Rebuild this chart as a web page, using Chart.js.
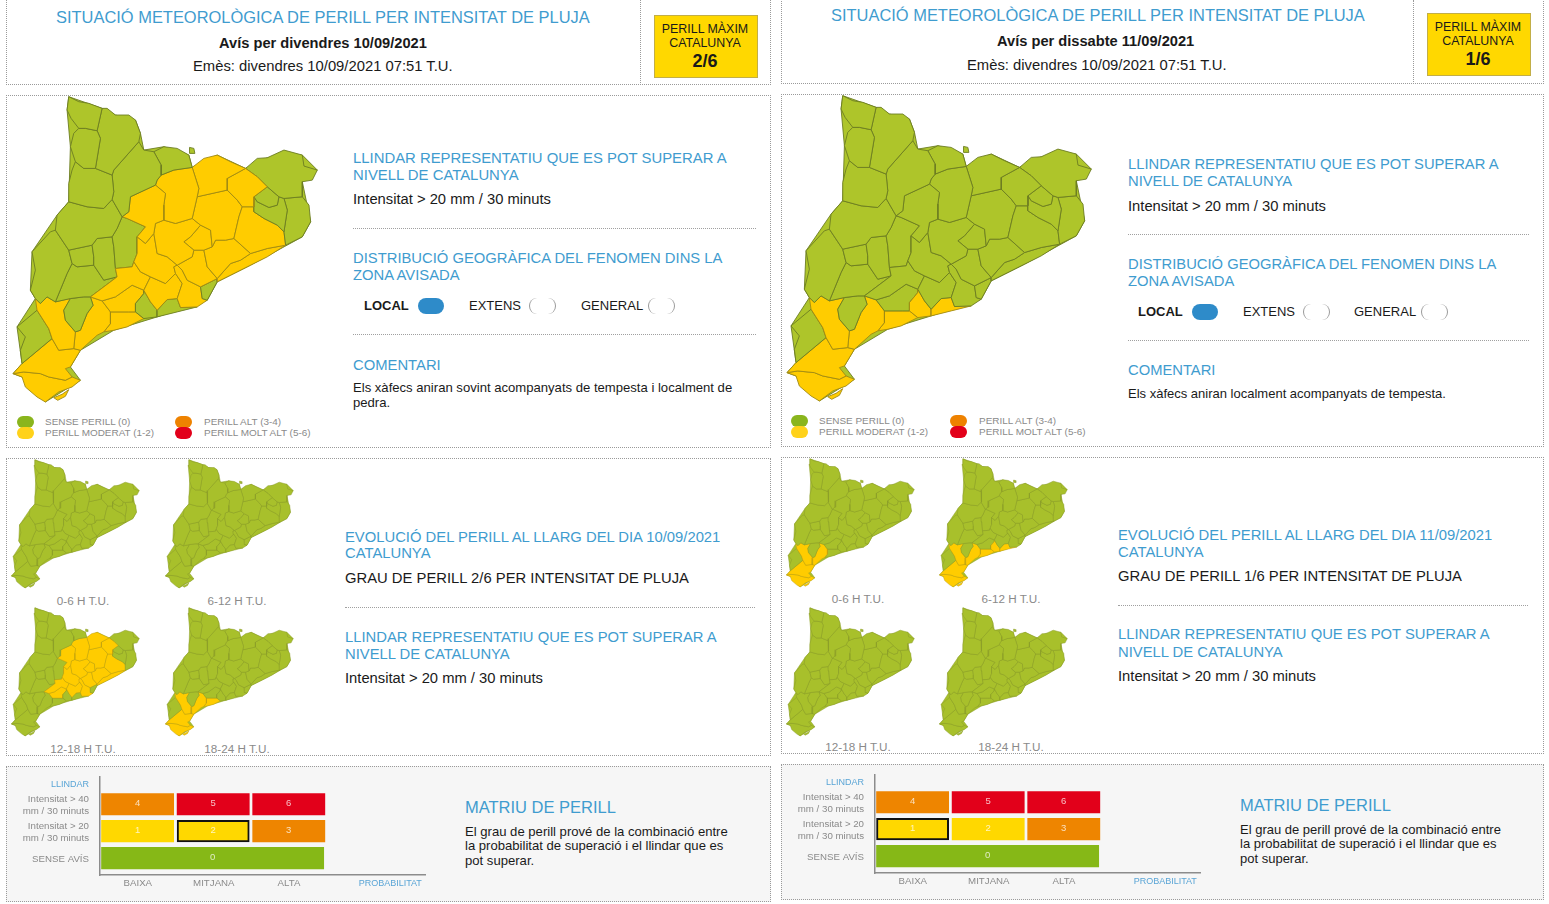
<!DOCTYPE html>
<html lang="ca">
<head>
<meta charset="UTF-8">
<title>Situació meteorològica de perill</title>
<script src="https://cdn.jsdelivr.net/npm/chart.js"></script>
<style>
html, body { margin: 0; padding: 0; background: #fff; width: 1549px; height: 904px; overflow: hidden; font-family: "Liberation Sans", Arial, sans-serif; }
body { filter: blur(0.35px); }
.panel { position: absolute; box-sizing: border-box; border: 1px dotted #9a9a9a; }
.rule { position: absolute; height: 0; border-top: 1px dotted #a0a0a0; }
.vrule { position: absolute; width: 0; border-left: 1px dotted #9a9a9a; }
.t { position: absolute; white-space: nowrap; transform: translateY(-50%); color: #1a1a1a; }
.c { transform: translate(-50%, -50%); }
.blue { color: #3f9ccf; }
.gray { color: #8a8a8a; }
.bold { font-weight: bold; }
.pill { position: absolute; box-sizing: border-box; border-radius: 8px; }
.open { border-left: 1.5px solid #999; border-right: 1.5px solid #999; }
.badge { position: absolute; box-sizing: border-box; width: 104px; height: 63px; background: #ffd800; border: 1px solid #c2ae48; }
canvas { position: absolute; }
</style>
</head>
<body>
<script>
// comarca outlines, x,y pairs
const valAran = [205,20, 235,35, 265,40, 305,55, 290,122, 255,115, 235,115, 212,85, 200,60];
const altaRibagorca = [235,115, 255,115, 290,122, 300,145, 285,235, 250,235, 225,215, 210,170, 220,130];
const pallarsSobira = [305,55, 320,55, 345,75, 385,75, 405,90, 420,130, 415,155, 340,240, 335,255, 285,235, 300,145, 290,122];
const pallarsJussa = [225,215, 250,235, 285,235, 335,255, 340,305, 335,328, 310,355, 260,350, 205,335, 205,280, 215,240];
const altUrgell = [415,155, 430,180, 460,185, 482,225, 482,255, 470,270, 465,285, 390,320, 385,365, 365,380, 335,328, 340,305, 335,255, 340,240];
const cerdanya = [460,185, 490,170, 530,175, 565,195, 575,232, 520,240, 482,255, 482,225];
const llivia = [567,172, 580,175, 583,190, 568,190];
const noguera = [205,335, 260,350, 310,355, 335,328, 365,380, 350,415, 335,440, 290,445, 275,465, 205,480, 165,420, 170,375];
const solsones = [390,320, 465,285, 495,310, 490,345, 490,390, 465,400, 460,430, 435,460, 410,440, 435,410, 380,385, 365,380, 385,365];
const bergueda = [470,270, 482,255, 520,240, 575,232, 595,295, 590,320, 575,385, 525,400, 490,390, 490,345, 495,310, 465,285];
const ripolles = [575,232, 610,205, 650,195, 690,215, 735,235, 680,265, 680,300, 590,320, 595,295];
const garrotxa = [680,265, 735,235, 770,260, 800,290, 760,320, 760,350, 725,350, 710,330, 680,300];
const altEmporda = [735,235, 770,205, 800,203, 850,180, 905,195, 910,228, 950,240, 935,270, 905,275, 905,320, 850,325, 835,320, 800,290, 770,260];
const plaEstany = [760,320, 800,290, 835,320, 830,345, 805,352, 770,335];
const girones = [760,350, 760,320, 770,335, 805,352, 830,345, 835,320, 850,325, 860,360, 850,425, 830,405, 790,385, 760,365];
const baixEmporda = [850,325, 905,320, 925,345, 930,395, 905,440, 855,465, 850,425, 860,360];
const selva = [760,365, 790,385, 830,405, 850,425, 855,465, 800,475, 750,490, 700,445, 715,380, 725,350, 760,350];
const osona = [590,320, 680,300, 710,330, 725,350, 715,380, 700,445, 675,450, 645,450, 635,470, 630,420, 600,405, 575,385];
const bages = [465,400, 490,390, 525,400, 575,385, 600,405, 570,440, 550,455, 580,480, 575,500, 530,525, 500,500, 470,490, 460,430];
const moianes = [600,405, 630,420, 635,470, 610,480, 580,480, 550,455, 570,440];
const vallesOriental = [635,470, 645,450, 675,450, 700,445, 750,490, 720,510, 690,520, 650,565, 620,530, 610,480];
const maresme = [750,490, 800,475, 855,465, 800,500, 750,525, 690,555, 650,575, 650,565, 690,520, 720,510];
const vallesOccidental = [530,525, 575,500, 580,480, 610,480, 620,530, 650,565, 640,570, 600,590, 560,570, 545,540];
const barcelones = [640,570, 650,565, 650,575, 620,630, 605,625, 600,590];
const baixLlobregat = [520,530, 530,525, 545,540, 560,570, 600,590, 605,625, 620,630, 590,650, 540,652, 530,625, 545,580, 525,550];
const anoia = [410,440, 435,460, 460,430, 470,490, 500,500, 530,525, 520,530, 525,550, 495,580, 450,560, 420,545, 400,515, 410,490];
const altPenedes = [525,550, 545,580, 530,625, 500,628, 470,660, 450,635, 430,600, 450,560, 495,580];
const garraf = [500,628, 530,625, 540,652, 590,650, 530,665, 470,680, 470,660];
const baixPenedes = [430,600, 450,635, 470,660, 470,680, 430,685, 405,665, 405,640, 430,610];
const concaBarbera = [270,620, 350,560, 345,535, 395,530, 400,515, 420,545, 450,560, 430,600, 395,585, 345,620, 305,632];
const altCamp = [305,632, 345,620, 395,585, 430,600, 430,610, 405,640, 405,665, 385,665, 330,665];
const segarra = [335,440, 350,415, 365,380, 380,385, 435,410, 410,440, 410,490, 400,515, 395,530, 345,535, 340,470];
const urgell = [275,465, 290,445, 335,440, 340,470, 345,535, 350,560, 310,570, 280,525, 280,500];
const plaUrgell = [205,480, 275,465, 280,500, 280,525, 230,530, 215,520];
const segria = [95,485, 150,425, 165,420, 205,480, 215,520, 200,550, 165,635, 140,620, 120,640, 105,625, 90,600, 105,540];
const garrigues = [200,550, 215,520, 230,530, 280,525, 310,570, 350,560, 270,620, 250,620, 210,625, 165,635];
const priorat = [190,660, 210,625, 250,620, 270,620, 278,645, 260,670, 240,720, 225,725, 195,690];
const riberaEbre = [105,625, 120,640, 140,620, 165,635, 210,625, 190,660, 195,690, 225,725, 220,775, 175,780, 155,745, 145,715, 110,660];
const terraAlta = [50,710, 110,660, 145,715, 155,745, 65,820, 60,780, 75,740];
const baixCamp = [270,620, 305,632, 330,665, 330,700, 310,725, 290,735, 240,780, 220,775, 225,725, 240,720, 260,670, 278,645];
const tarragones = [330,665, 385,665, 405,665, 430,685, 380,710, 340,720, 310,725, 330,700];
const baixEbre = [155,745, 175,780, 220,775, 240,780, 210,830, 195,835, 215,860, 195,870, 145,860, 120,850, 70,845, 38,850, 65,820];
const montsia = [38,850, 70,845, 120,850, 145,860, 195,870, 215,860, 240,870, 215,890, 175,905, 135,935, 110,920, 75,890, 65,860];
const deltaSpit = [160,922, 185,912, 205,898, 195,918, 172,930];
const catalunya = [205,20, 305,55, 345,75, 405,90, 420,130, 430,180, 490,170, 565,195, 575,232, 650,195, 735,235, 800,203, 905,195, 950,240, 905,275, 930,395, 905,440, 750,525, 650,575, 620,630, 470,680, 340,720, 240,780, 210,830, 240,870, 135,935, 65,860, 38,850, 65,820, 50,710, 105,625, 90,600, 95,485, 170,375, 205,335, 210,170, 200,60];

const comarcaNames = ['Val d\'Aran', 'Alta Ribagorça', 'Pallars Sobirà', 'Pallars Jussà', 'Alt Urgell', 'Cerdanya', 'Llívia', 'Noguera', 'Solsonès', 'Berguedà', 'Ripollès', 'Garrotxa', 'Alt Empordà', 'Pla de l\'Estany', 'Gironès', 'Baix Empordà', 'Selva', 'Osona', 'Bages', 'Moianès', 'Vallès Oriental', 'Maresme', 'Vallès Occidental', 'Barcelonès', 'Baix Llobregat', 'Anoia', 'Alt Penedès', 'Garraf', 'Baix Penedès', 'Conca de Barberà', 'Alt Camp', 'Segarra', 'Urgell', 'Pla d\'Urgell', 'Segrià', 'Garrigues', 'Priorat', 'Ribera d\'Ebre', 'Terra Alta', 'Baix Camp', 'Tarragonès', 'Baix Ebre', 'Montsià', 'Delta', 'Catalunya'];
const comarcaShapes = [valAran, altaRibagorca, pallarsSobira, pallarsJussa, altUrgell, cerdanya, llivia, noguera, solsones, bergueda, ripolles, garrotxa, altEmporda, plaEstany, girones, baixEmporda, selva, osona, bages, moianes, vallesOriental, maresme, vallesOccidental, barcelones, baixLlobregat, anoia, altPenedes, garraf, baixPenedes, concaBarbera, altCamp, segarra, urgell, plaUrgell, segria, garrigues, priorat, riberaEbre, terraAlta, baixCamp, tarragones, baixEbre, montsia, deltaSpit, catalunya];

// comarques at moderate danger on each map
const tortosaArea = ['Ribera d\'Ebre', 'Baix Camp', 'Baix Ebre', 'Montsià', 'Delta'];
const coastArea = ['Tarragonès', 'Baix Penedès', 'Garraf'];
const centralArea = ['Solsonès', 'Berguedà', 'Ripollès', 'Garrotxa', 'Osona', 'Bages', 'Moianès', 'Vallès Oriental', 'Maresme', 'Selva', 'Vallès Occidental', 'Baix Llobregat', 'Anoia', 'Alt Penedès', 'Conca de Barberà', 'Alt Camp'];
const friBig = centralArea.concat(tortosaArea, ['Tarragonès']);
const fri12 = centralArea;
const fri18 = tortosaArea.concat(['Tarragonès']);
const satBig = tortosaArea.concat(coastArea);
const sat0 = tortosaArea;
const sat6 = tortosaArea.concat(coastArea);

// danger matrix
const matrixRows = [1, 2, 3];
const matrixRowLabels = [['Intensitat > 40', 'mm / 30 minuts'], ['Intensitat > 20', 'mm / 30 minuts'], ['SENSE AVÍS']];
const probLabels = ['BAIXA', 'MITJANA', 'ALTA', 'PROBABILITAT'];
const baixaCells = [4, 1];
const mitjanaCells = [5, 2];
const altaCells = [6, 3];
const levelColors = ['#86b817', '#ffd800', '#ffd800', '#ee8500', '#ee8500', '#e2001a', '#e2001a'];

function addText(text, x, y, size, cls) {
    const el = document.createElement('div');
    el.className = 't ' + (cls || '');
    el.textContent = text;
    el.style.left = x + 'px';
    el.style.top = y + 'px';
    el.style.fontSize = size + 'px';
    document.body.appendChild(el);
}

function addBox(cls, x, y, w, h, bg) {
    const el = document.createElement('div');
    el.className = cls;
    el.style.left = x + 'px';
    el.style.top = y + 'px';
    if (w != null) el.style.width = w + 'px';
    if (h != null) el.style.height = h + 'px';
    if (bg) el.style.background = bg;
    document.body.appendChild(el);
}

function addCanvas(x, y, w, h) {
    const c = document.createElement('canvas');
    c.width = w;
    c.height = h;
    c.style.left = x + 'px';
    c.style.top = y + 'px';
    c.style.width = w + 'px';
    c.style.height = h + 'px';
    document.body.appendChild(c);
    return c;
}

function toPoints(flat) {
    const pts = [];
    for (let i = 0; i < flat.length; i += 2) pts.push({ x: flat[i], y: flat[i + 1] });
    pts.push({ x: flat[0], y: flat[1] });
    return pts;
}

function drawMap(x, y, scale, yellow, big) {
    const green = big ? '#aec52a' : '#a8c02b';
    const size = 950 * scale;
    const canvas = addCanvas(x - 20 * scale, y, Math.round(size), Math.round(size));
    const datasets = comarcaShapes.map((shape, i) => {
        const on = yellow.includes(comarcaNames[i]);
        return {
            label: comarcaNames[i],
            data: toPoints(shape),
            showLine: true,
            fill: 'shape',
            clip: false,
            tension: 0,
            pointRadius: 0,
            backgroundColor: on ? '#ffcc00' : green,
            borderColor: on ? (big ? '#a08a14' : '#c0a010') : (big ? '#6c7d22' : '#8a9c2a'),
            borderWidth: big ? 0.9 : 0.5
        };
    });
    new Chart(canvas.getContext('2d'), {
        type: 'scatter',
        data: { datasets: datasets },
        options: {
            responsive: false,
            animation: false,
            events: [],
            layout: { padding: 0 },
            plugins: { legend: { display: false }, tooltip: { enabled: false } },
            scales: {
                x: { display: false, min: 20, max: 970 },
                y: { display: false, min: 0, max: 950, reverse: true }
            }
        }
    });
}

// writes the danger level on top of each bar
const cellNumbers = {
    id: 'cellNumbers',
    afterDatasetsDraw(chart) {
        const ctx = chart.ctx;
        ctx.save();
        ctx.font = '9.5px "Liberation Sans"';
        ctx.fillStyle = 'rgba(255,255,255,0.75)';
        ctx.textAlign = 'center';
        ctx.textBaseline = 'middle';
        chart.data.datasets.forEach((ds, d) => {
            chart.getDatasetMeta(d).data.forEach((bar, i) => {
                ctx.fillText(ds.levels[i], (bar.x + bar.base) / 2, bar.y - 1);
            });
        });
        ctx.restore();
    }
};

function cellSet(col, levels, mark) {
    return {
        label: probLabels[col],
        levels: levels,
        data: levels.map((v, i) => ({ x: [col, col + 0.955], y: matrixRows[i] })),
        backgroundColor: levels.map(v => levelColors[v]),
        borderColor: levels.map(v => v === mark ? '#111' : 'transparent'),
        borderWidth: levels.map(v => v === mark ? 2 : 0),
        borderSkipped: false,
        barThickness: 21.5
    };
}

function drawMatrix(x, y, mark) {
    // x,y is the top of the vertical axis
    const canvas = addCanvas(x - 90, y, 421, 118);
    const noLevel = {
        label: 'sense avís',
        levels: [0],
        data: [{ x: [0, 2.94], y: matrixRows[2] }],
        backgroundColor: levelColors[0],
        borderWidth: 0,
        barThickness: 21.5
    };
    new Chart(canvas.getContext('2d'), {
        type: 'bar',
        data: { datasets: [cellSet(0, baixaCells, mark), cellSet(1, mitjanaCells, mark), cellSet(2, altaCells, mark), noLevel] },
        plugins: [cellNumbers],
        options: {
            indexAxis: 'y',
            responsive: false,
            animation: false,
            events: [],
            layout: { padding: { right: 6 } },
            plugins: { legend: { display: false }, tooltip: { enabled: false } },
            datasets: { bar: { grouped: false } },
            scales: {
                x: {
                    type: 'linear',
                    min: -0.02,
                    max: 4.28,
                    afterFit(axis) { axis.height = 19; axis.paddingLeft = 0; axis.paddingRight = 0; },
                    afterBuildTicks(axis) { axis.ticks = [{ value: 0.48 }, { value: 1.486 }, { value: 2.48 }, { value: 3.82 }]; },
                    grid: { display: false, drawTicks: false },
                    border: { color: '#8c8c8c', width: 1.5 },
                    ticks: {
                        autoSkip: false,
                        maxRotation: 0,
                        padding: 3,
                        font: c => ({ size: c.index === 3 ? 9 : 9.7, family: '"Liberation Sans"' }),
                        color: c => c.index === 3 ? '#5aa5d6' : '#8a8a8a',
                        callback: (v, i) => probLabels[i]
                    }
                },
                y: {
                    type: 'linear',
                    offset: false,
                    reverse: true,
                    min: -0.05,
                    max: 3.63,
                    afterFit(axis) { axis.width = 90; axis.paddingTop = 0; axis.paddingBottom = 0; },
                    afterBuildTicks(axis) { axis.ticks = [{ value: 0.26 }, { value: 1.05 }, { value: 2.04 }, { value: 3.04 }]; },
                    grid: { display: false, drawTicks: false },
                    border: { color: '#8c8c8c', width: 1.5 },
                    ticks: {
                        autoSkip: false,
                        padding: 11,
                        font: c => ({ size: c.index === 0 ? 9 : 9.7, family: '"Liberation Sans"' }),
                        color: c => c.index === 0 ? '#5aa5d6' : '#8a8a8a',
                        callback: (v, i) => i === 0 ? 'LLINDAR' : matrixRowLabels[i - 1]
                    }
                }
            }
        }
    });
}

function legendRows(x, y, x2) {
    addBox('pill', x, y, 17, 12, '#8ab51d');
    addBox('pill', x, y + 11, 17, 12, '#ffd21a');
    addBox('pill', x2, y, 17, 12, '#ee8200');
    addBox('pill', x2, y + 11, 17, 12, '#e2001a');
    addText('SENSE PERILL (0)', x + 28, y + 4.5, 9.95, 'gray');
    addText('PERILL MODERAT (1-2)', x + 28, y + 15.5, 9.95, 'gray');
    addText('PERILL ALT (3-4)', x2 + 29, y + 4.5, 9.95, 'gray');
    addText('PERILL MOLT ALT (5-6)', x2 + 29, y + 15.5, 9.95, 'gray');
}

function levelPills(y, xs, size) {
    addText('LOCAL', xs[0], y - 1, size, 'bold');
    addBox('pill', xs[0] + 54, y - 8, 26, 16, '#2e8bc9');
    addText('EXTENS', xs[1], y - 1, size);
    addBox('pill open', xs[1] + 60, y - 8, 27, 16);
    addText('GENERAL', xs[2], y - 1, size);
    addBox('pill open', xs[2] + 67, y - 8, 27, 16);
}

// ---- left page, Friday ----
addBox('panel', 6, -2, 765, 87);
addBox('vrule', 640, 0, null, 85);
addBox('panel', 6, 95, 765, 353);
addBox('panel', 6, 458, 765, 298);
addBox('panel', 6, 766, 765, 136, '#f6f6f6');

addText('SITUACIÓ METEOROLÒGICA DE PERILL PER INTENSITAT DE PLUJA', 56, 17, 16.45, 'blue');
addText('Avís per divendres 10/09/2021', 219, 43, 14.65, 'bold');
addText('Emès: divendres 10/09/2021 07:51 T.U.', 193, 66, 14.8);
addBox('badge', 654, 15);
addText('PERILL MÀXIM', 705, 29, 12.4, 'c');
addText('CATALUNYA', 705, 43, 12.4, 'c');
addText('2/6', 705, 61, 18, 'c bold');

addText('LLINDAR REPRESENTATIU QUE ES POT SUPERAR A', 353, 158, 14.88, 'blue');
addText('NIVELL DE CATALUNYA', 353, 175, 14.88, 'blue');
addText('Intensitat > 20 mm / 30 minuts', 353, 199, 14.75);
addBox('rule', 353, 228, 403);
addText('DISTRIBUCIÓ GEOGRÀFICA DEL FENOMEN DINS LA', 353, 258, 14.8, 'blue');
addText('ZONA AVISADA', 353, 275, 14.8, 'blue');
levelPills(306, [364, 469, 581], 13);
addBox('rule', 353, 334, 403);
addText('COMENTARI', 353, 365, 14.8, 'blue');
addText('Els xàfecs aniran sovint acompanyats de tempesta i localment de', 353, 387, 13.1);
addText('pedra.', 353, 402, 13.1);
legendRows(17, 416, 175);

addText('0-6 H T.U.', 83, 600, 11.7, 'c gray');
addText('6-12 H T.U.', 237, 600, 11.7, 'c gray');
addText('12-18 H T.U.', 83, 748, 11.7, 'c gray');
addText('18-24 H T.U.', 237, 748, 11.7, 'c gray');
addText('EVOLUCIÓ DEL PERILL AL LLARG DEL DIA 10/09/2021', 345, 537, 14.8, 'blue');
addText('CATALUNYA', 345, 553, 14.8, 'blue');
addText('GRAU DE PERILL 2/6 PER INTENSITAT DE PLUJA', 345, 578, 14.8);
addBox('rule', 345, 607, 410);
addText('LLINDAR REPRESENTATIU QUE ES POT SUPERAR A', 345, 637, 14.8, 'blue');
addText('NIVELL DE CATALUNYA', 345, 654, 14.8, 'blue');
addText('Intensitat > 20 mm / 30 minuts', 345, 678, 14.75);

addText('MATRIU DE PERILL', 465, 807, 16.5, 'blue');
addText('El grau de perill prové de la combinació entre', 465, 831, 13.1);
addText('la probabilitat de superació i el llindar que es', 465, 845, 13.1);
addText('pot superar.', 465, 860, 13.1);

// ---- right page, Saturday ----
addBox('panel', 781, -2, 763, 86);
addBox('vrule', 1413, 0, null, 84);
addBox('panel', 781, 94, 763, 353);
addBox('panel', 781, 457, 763, 297);
addBox('panel', 781, 764, 763, 136, '#f6f6f6');

addText('SITUACIÓ METEOROLÒGICA DE PERILL PER INTENSITAT DE PLUJA', 831, 15, 16.45, 'blue');
addText('Avís per dissabte 11/09/2021', 997, 41, 14.65, 'bold');
addText('Emès: divendres 10/09/2021 07:51 T.U.', 967, 65, 14.8);
addBox('badge', 1427, 13);
addText('PERILL MÀXIM', 1478, 27, 12.4, 'c');
addText('CATALUNYA', 1478, 41, 12.4, 'c');
addText('1/6', 1478, 59, 18, 'c bold');

addText('LLINDAR REPRESENTATIU QUE ES POT SUPERAR A', 1128, 164, 14.76, 'blue');
addText('NIVELL DE CATALUNYA', 1128, 181, 14.76, 'blue');
addText('Intensitat > 20 mm / 30 minuts', 1128, 206, 14.75);
addBox('rule', 1128, 234, 401);
addText('DISTRIBUCIÓ GEOGRÀFICA DEL FENOMEN DINS LA', 1128, 264, 14.76, 'blue');
addText('ZONA AVISADA', 1128, 281, 14.76, 'blue');
levelPills(312, [1138, 1243, 1354], 13);
addBox('rule', 1128, 340, 401);
addText('COMENTARI', 1128, 370, 14.76, 'blue');
addText('Els xàfecs aniran localment acompanyats de tempesta.', 1128, 393, 13);
legendRows(791, 415, 950);

addText('0-6 H T.U.', 858, 598, 11.7, 'c gray');
addText('6-12 H T.U.', 1011, 598, 11.7, 'c gray');
addText('12-18 H T.U.', 858, 746, 11.7, 'c gray');
addText('18-24 H T.U.', 1011, 746, 11.7, 'c gray');
addText('EVOLUCIÓ DEL PERILL AL LLARG DEL DIA 11/09/2021', 1118, 535, 14.8, 'blue');
addText('CATALUNYA', 1118, 552, 14.8, 'blue');
addText('GRAU DE PERILL 1/6 PER INTENSITAT DE PLUJA', 1118, 576, 14.8);
addBox('rule', 1118, 605, 410);
addText('LLINDAR REPRESENTATIU QUE ES POT SUPERAR A', 1118, 634, 14.8, 'blue');
addText('NIVELL DE CATALUNYA', 1118, 652, 14.8, 'blue');
addText('Intensitat > 20 mm / 30 minuts', 1118, 676, 14.75);

addText('MATRIU DE PERILL', 1240, 805, 16.5, 'blue');
addText('El grau de perill prové de la combinació entre', 1240, 829, 13);
addText('la probabilitat de superació i el llindar que es', 1240, 843, 13);
addText('pot superar.', 1240, 858, 13);

// ---- maps ----
const bigScale = 1 / 3;
const smallScale = 0.14;
drawMap(13.34, 90, bigScale, friBig, true);
drawMap(12, 457, smallScale, [], false);
drawMap(166, 457, smallScale, [], false);
drawMap(12, 605, smallScale, fri12, false);
drawMap(166, 605, smallScale, fri18, false);

drawMap(787.34, 89.3, bigScale, satBig, true);
drawMap(787, 456, smallScale, sat0, false);
drawMap(939.6, 456, smallScale, sat6, false);
drawMap(787, 605, smallScale, [], false);
drawMap(939.6, 605, smallScale, [], false);

drawMatrix(100, 776, 2);
drawMatrix(875, 774, 1);
</script>
</body>
</html>
